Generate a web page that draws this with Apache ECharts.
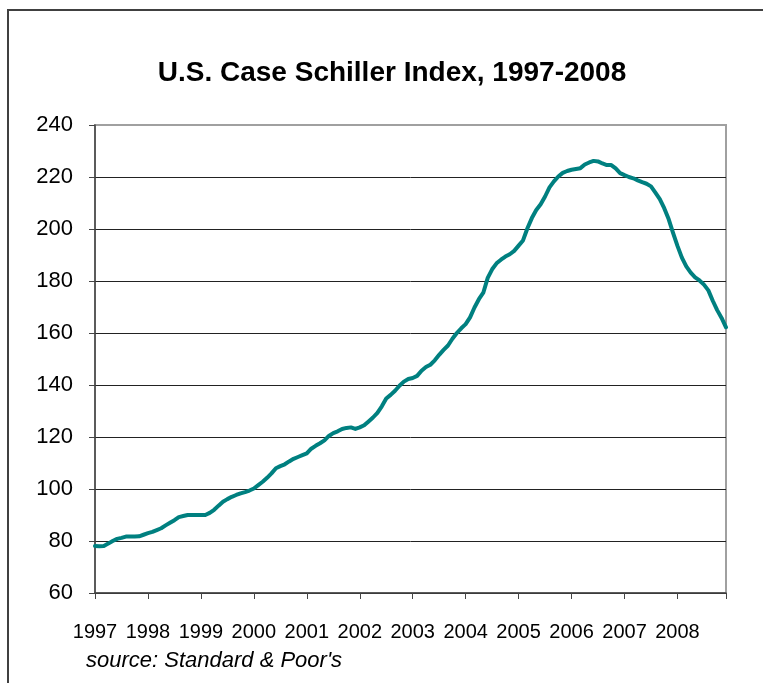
<!DOCTYPE html>
<html>
<head>
<meta charset="utf-8">
<title>U.S. Case Schiller Index</title>
<script src="https://cdn.jsdelivr.net/npm/echarts@6/dist/echarts.min.js"></script>
<style>
    html, body { margin: 0; padding: 0; background: #fff; }
    #main { width: 763px; height: 683px; }
</style>
</head>
<body>
<div id="main"></div>
<script>

    var years = ['1997', '1998', '1999', '2000', '2001', '2002', '2003', '2004', '2005', '2006', '2007', '2008'];
    var months = ['01', '02', '03', '04', '05', '06', '07', '08', '09', '10', '11', '12'];

    // monthly index values, one row per year
    var v1997 = [78.1, 78.0, 78.1, 79.0, 80.0, 80.8, 81.2, 81.7, 81.7, 81.7, 81.8, 82.4];
    var v1998 = [83.0, 83.5, 84.2, 84.9, 86.0, 87.0, 88.0, 89.2, 89.6, 90.0, 90.0, 90.0];
    var v1999 = [90.0, 90.0, 90.8, 92.0, 93.6, 95.1, 96.1, 97.0, 97.7, 98.3, 98.8, 99.4];
    var v2000 = [100.2, 101.5, 102.8, 104.3, 106.0, 108.0, 108.8, 109.5, 110.6, 111.6, 112.3, 113.0];
    var v2001 = [113.7, 115.5, 116.6, 117.6, 118.7, 120.4, 121.5, 122.2, 123.1, 123.5, 123.7, 123.1];
    var v2002 = [123.7, 124.5, 126.0, 127.5, 129.3, 131.8, 134.8, 136.2, 137.8, 139.7, 141.3, 142.3];
    var v2003 = [142.7, 143.5, 145.5, 146.9, 147.8, 149.5, 151.6, 153.5, 155.2, 157.8, 160.0, 161.8];
    var v2004 = [163.4, 166.0, 169.8, 173.0, 175.5, 181.2, 184.5, 186.8, 188.2, 189.4, 190.3, 191.6];
    var v2005 = [193.6, 195.6, 200.3, 204.2, 207.3, 209.5, 212.5, 216.0, 218.3, 220.2, 221.6, 222.3];
    var v2006 = [222.8, 223.1, 223.4, 224.8, 225.6, 226.2, 226.0, 225.2, 224.6, 224.6, 223.3, 221.5];
    var v2007 = [220.7, 220.0, 219.5, 218.7, 218.0, 217.4, 216.4, 214.0, 211.5, 208.0, 203.8, 198.5];
    var v2008 = [193.5, 189.0, 185.6, 183.2, 181.4, 180.2, 178.6, 176.4, 172.4, 168.8, 165.8, 162.2];

    var yTicks = [60, 80, 100, 120, 140, 160, 180, 200, 220, 240];

    var titleText = 'U.S. Case Schiller Index, 1997-2008';
    var sourceText = "source: Standard & Poor's";

    var byYear = [v1997, v1998, v1999, v2000, v2001, v2002, v2003, v2004, v2005, v2006, v2007, v2008];

    function $each(arr, fn) {
        for (var i = 0; i < arr.length; i++) fn(i, arr[i]);
    }

    var cats = [];
    var values = [];
    $each(years, function (yi, y) {
        $each(months, function (mi, m) {
            cats.push(y + '-' + m);
            values.push(byYear[yi][mi]);
        });
    });

    var lastIdx = cats.length - 1;
    var font = 'Liberation Sans, Arial, sans-serif';

    // top gridline is the grey plot border, the rest are dark
    var gridColors = yTicks.map(function (t) { return t === 240 ? '#a0a0a0' : '#222'; });

    var myChart = echarts.init(document.getElementById('main'), null, { renderer: 'canvas' });

    var option = {
        backgroundColor: '#fff',
        animation: false,
        grid: {
            left: 95,
            top: 125,
            width: 631,
            height: 468,
            show: true,
            borderColor: '#a0a0a0',
            borderWidth: 2,
            backgroundColor: 'transparent'
        },
        xAxis: {
            type: 'category',
            data: cats,
            boundaryGap: false,
            axisLine: { lineStyle: { color: '#444', width: 1.5 } },
            axisTick: {
                length: 6,
                interval: function (i) { return i % 12 === 0 || i === lastIdx; },
                lineStyle: { color: '#444' }
            },
            axisLabel: {
                interval: function (i) { return i % 12 === 0; },
                formatter: function (v) { return v.substring(0, 4); },
                margin: 29,
                color: '#000',
                fontSize: 20,
                fontFamily: font
            },
            splitLine: { show: false }
        },
        yAxis: {
            type: 'value',
            min: 60,
            max: 240,
            interval: 20,
            axisLine: { show: true, lineStyle: { color: '#444', width: 1.5 } },
            axisTick: { show: true, length: 6, lineStyle: { color: '#444' } },
            axisLabel: {
                margin: 22,
                color: '#000',
                fontSize: 22,
                fontFamily: font
            },
            splitLine: { show: true, lineStyle: { color: gridColors, width: 1 } }
        },
        series: [
            {
                name: 'Case Schiller',
                type: 'line',
                data: values,
                showSymbol: false,
                symbol: 'none',
                lineStyle: { color: '#008080', width: 4, join: 'round', cap: 'round' },
                z: 5
            }
        ],
        graphic: [
            {
                type: 'rect',
                shape: { x: 8, y: 10, width: 820, height: 720 },
                style: { fill: 'none', stroke: '#404040', lineWidth: 2 },
                silent: true
            },
            {
                type: 'text',
                x: 392,
                y: 73,
                style: {
                    text: titleText,
                    fill: '#000',
                    font: 'bold 28px ' + font,
                    textAlign: 'center',
                    textVerticalAlign: 'middle'
                }
            },
            {
                type: 'text',
                x: 86,
                y: 661,
                style: {
                    text: sourceText,
                    fill: '#000',
                    font: 'italic 22px ' + font,
                    textAlign: 'left',
                    textVerticalAlign: 'middle'
                }
            }
        ]
    };

    myChart.setOption(option);

</script>
</body>
</html>
